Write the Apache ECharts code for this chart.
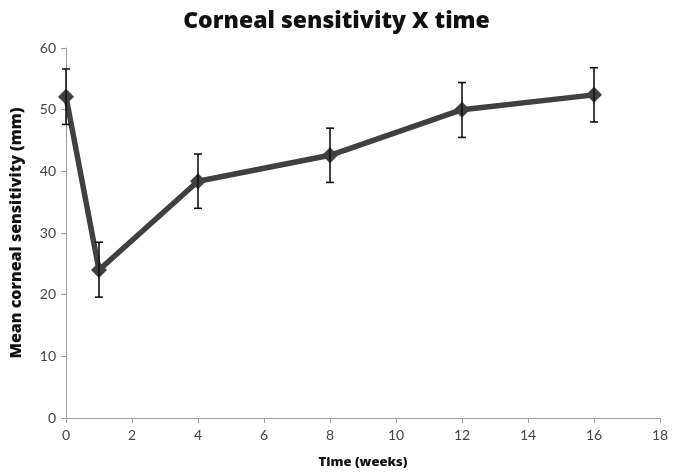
<!DOCTYPE html>
<html><head><meta charset="utf-8">
<script src="https://cdn.jsdelivr.net/npm/echarts@6/dist/echarts.min.js"></script>
<style>html,body{margin:0;padding:0;background:#fff}#c{width:673px;height:475px}</style>
</head><body><div id="c"></div>
<script>
var weeks = [0, 1, 4, 8, 12, 16];
var meanSensitivity = [52.1, 24.0, 38.4, 42.6, 50.0, 52.4];
var errUpper = [4.5, 4.5, 4.4, 4.4, 4.4, 4.4];
var errLower = [4.5, 4.4, 4.4, 4.4, 4.5, 4.4];
var xTicks = [0, 2, 4, 6, 8, 10, 12, 14, 16, 18];
var yTicks = [0, 10, 20, 30, 40, 50, 60];

var lineData = weeks.map(function (w, i) { return [w, meanSensitivity[i]]; });
var errData = weeks.map(function (w, i) {
  return [w, meanSensitivity[i] - errLower[i], meanSensitivity[i] + errUpper[i]];
});
var font = 'Lato, "Open Sans", sans-serif';
var boldFont = '"Open Sans", Lato, sans-serif';
var chart = echarts.init(document.getElementById('c'));
chart.setOption({
  animation: false,
  title: {
    text: 'Corneal sensitivity X time', left: 'center', top: 5,
    textStyle: { fontFamily: boldFont, fontWeight: 800, fontSize: 23, color: '#111' }
  },
  grid: { left: 66, right: 13, top: 48, bottom: 57 },
  xAxis: {
    type: 'value', min: 0, max: 18, interval: 2,
    name: 'Time (weeks)', nameLocation: 'middle', nameGap: 38,
    nameTextStyle: { fontFamily: boldFont, fontWeight: 800, fontSize: 13, color: '#111' },
    axisLine: { lineStyle: { color: '#a0a0a0', width: 1 } },
    axisTick: { show: true, length: 5, lineStyle: { color: '#a0a0a0' } },
    axisLabel: { fontFamily: font, fontSize: 14, color: '#444', margin: 10 },
    splitLine: { show: false }
  },
  yAxis: {
    type: 'value', min: 0, max: 60, interval: 10,
    name: 'Mean corneal sensitivity (mm)', nameLocation: 'middle', nameGap: 42, nameRotate: 90,
    nameTextStyle: { fontFamily: boldFont, fontWeight: 800, fontSize: 16, color: '#111' },
    axisLine: { show: true, lineStyle: { color: '#a0a0a0', width: 1 } },
    axisTick: { show: true, length: 5, lineStyle: { color: '#a0a0a0' } },
    axisLabel: { fontFamily: font, fontSize: 14, color: '#444', margin: 10 },
    splitLine: { show: false }
  },
  series: [
    {
      type: 'line', data: lineData, symbol: 'diamond', symbolSize: 16,
      lineStyle: { color: '#404040', width: 5.5 },
      itemStyle: { color: '#404040' }, z: 2
    },
    {
      type: 'custom', data: errData, z: 3,
      renderItem: function (params, api) {
        var x = api.value(0);
        var lo = api.coord([x, api.value(1)]);
        var hi = api.coord([x, api.value(2)]);
        var w = 4;
        var st = { stroke: '#111', lineWidth: 1.6 };
        return {
          type: 'group', children: [
            { type: 'line', shape: { x1: hi[0], y1: hi[1], x2: lo[0], y2: lo[1] }, style: st },
            { type: 'line', shape: { x1: hi[0] - w, y1: hi[1], x2: hi[0] + w, y2: hi[1] }, style: st },
            { type: 'line', shape: { x1: lo[0] - w, y1: lo[1], x2: lo[0] + w, y2: lo[1] }, style: st }
          ]
        };
      }
    }
  ]
});
</script></body></html>
